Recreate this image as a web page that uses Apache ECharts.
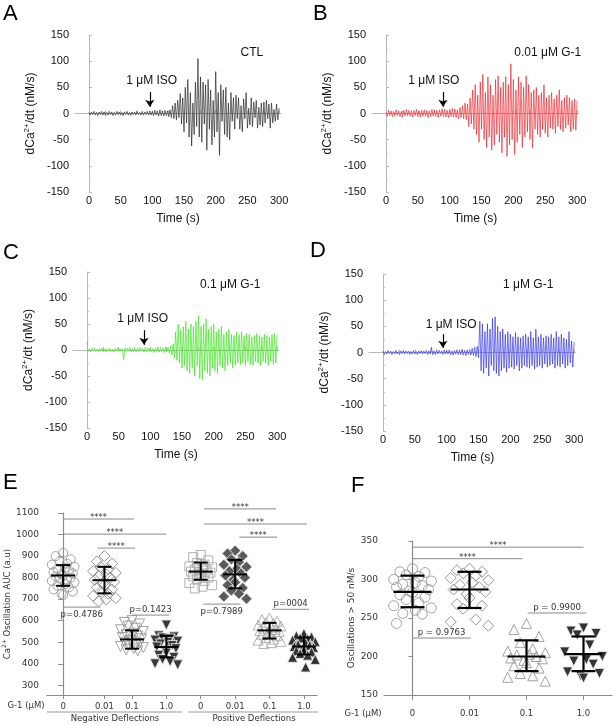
<!DOCTYPE html>
<html><head><meta charset="utf-8">
<script src="https://cdn.jsdelivr.net/npm/echarts@6/dist/echarts.min.js"></script>
<style>html,body{margin:0;padding:0;background:#fff}#c{width:616px;height:726px}</style>
</head><body><div id="c"></div>
<script>
// ---------------- DATA ----------------
const timeStep = 2; // seconds between samples
const traceCTL = [
 2,-3,3,-2,4,-3,2,-4,3,-2,
 4,-3,3,-4,2,-3,4,-2,3,-4,
 2,-3,4,-2,3,-3,2,-4,3,-2,
 4,-3,2,-4,3,-2,3,-3,4,-2,
 2,-3,4,-3,3,-2,4,-3,5,-3,
 4,-4,6,-3,5,-5,7,-4,5,-5,
 6,-4,5,-6,7,-8,15,-10,20,-12,
 25,-8,38,-20,30,-35,50,-18,65,-45,
 40,-62,20,-40,60,-25,105,-45,70,-55,
 60,-20,55,-70,65,-30,45,-60,25,-45,
 80,-35,40,-80,55,-15,45,-40,50,-45,
 20,-50,40,-15,30,-30,35,-10,30,-30,
 15,-35,28,-10,40,-28,10,-22,30,-25,
 22,-8,25,-28,12,-22,20,-25,22,-18,
 25,-10,18,-28,20,-18,8,-15,18,-12,
 10];
const traceG001 = [
 3,-5,6,-4,5,-6,4,-5,7,-4,
 5,-6,4,-7,6,-5,8,-4,6,-5,
 5,-7,6,-4,8,-6,5,-7,6,-5,
 7,-5,6,-8,5,-6,8,-5,7,-6,
 6,-8,7,-5,9,-6,8,-7,6,-8,
 8,-6,10,-7,9,-8,7,-10,12,-8,
 15,-10,20,-12,18,-25,30,-20,45,-30,
 55,-40,35,-55,60,-30,75,-50,40,-65,
 70,-45,55,-70,35,-60,65,-40,72,-55,
 50,-75,60,-45,70,-82,55,-60,95,-50,
 65,-78,45,-55,70,-40,60,-65,50,-45,
 72,-35,55,-50,40,-65,45,-30,50,-40,
 35,-45,40,-30,55,-38,30,-45,35,-28,
 40,-30,28,-38,35,-25,45,-30,25,-35,
 30,-28,35,-22,30,-35,25,-30,28,-32,
 25];
const traceG01 = [
 15,-3,2,-4,3,-2,4,-3,2,-3,
 3,-2,4,-3,2,-4,3,-2,3,-3,
 2,-4,3,-2,4,-3,3,-2,2,-18,
 4,-3,3,-2,5,-4,3,-3,2,-4,
 4,-3,5,-2,3,-4,5,-3,4,-3,
 5,-4,3,-5,4,-3,6,-4,5,-3,
 4,-5,6,-4,5,-6,8,-10,12,-15,
 35,-20,50,-25,40,-35,45,-30,55,-40,
 40,-45,50,-35,45,-50,55,-30,65,-55,
 45,-58,50,-40,60,-45,40,-50,45,-35,
 50,-40,35,-45,40,-30,45,-35,30,-40,
 35,-30,40,-25,30,-35,28,-30,35,-25,
 30,-28,35,-25,28,-30,32,-22,30,-28,
 25,-30,28,-22,32,-25,28,-30,25,-22,
 30,-25,28,-30,25,-22,30,-28,32,-25,
 28];
const traceG1 = [
 3,-4,2,-3,4,-2,3,-4,2,-3,
 4,-3,2,-4,3,-2,4,-3,3,-2,
 3,-4,2,-3,4,-3,2,-4,3,-2,
 4,-3,3,-2,4,-4,3,-3,10,-4,
 3,-4,5,-3,4,-2,3,-4,5,-3,
 4,-3,5,-4,3,-5,4,-3,5,-4,
 5,-4,6,-5,4,-6,5,-4,6,-5,
 8,-6,10,-8,12,-10,60,-35,55,-40,
 40,-30,55,-45,45,-25,65,-35,68,-40,
 50,-45,40,-35,45,-30,35,-38,40,-30,
 35,-28,30,-32,38,-25,30,-35,28,-30,
 32,-25,35,-28,30,-30,40,-25,28,-32,
 45,-28,30,-25,35,-30,28,-22,32,-28,
 30,-25,35,-22,28,-30,40,-25,30,-28,
 35,-22,28,-30,25,-25,40,-20,22,-28,
 20];
const timeLabels = [0, 50, 100, 150, 200, 250, 300];
const timeMinorTicks = [0, 25, 50, 75, 100, 125, 150, 175, 200, 225, 250, 275, 300];

// Panel E: Ca2+ oscillation AUC
const aucCategories = ['0', '0.01', '0.1', '1.0', '0', '0.01', '0.1', '1.0'];
const aucGroupPos = [0, 1.2, 2, 3, 4, 5, 6, 7];
const aucNeg0   = [915, 900, 885, 875, 865, 860, 850, 845, 840, 832, 825, 820, 815, 810, 805, 800, 795, 790, 785, 778, 770, 762, 755, 745, 735, 725, 720];
const aucNeg001 = [900, 875, 865, 850, 840, 830, 822, 815, 808, 800, 790, 780, 772, 765, 755, 745, 735, 725, 715, 705, 698, 690];
const aucNeg01  = [600, 592, 585, 575, 565, 558, 550, 542, 535, 528, 522, 516, 510, 505, 500, 495, 490, 485, 480, 475, 470, 465, 460];
const aucNeg1   = [580, 530, 525, 520, 515, 510, 505, 500, 492, 485, 478, 470, 460, 450, 440, 430, 420, 410, 400, 395];
const aucPos0   = [905, 895, 880, 868, 860, 852, 848, 842, 838, 833, 828, 823, 818, 812, 806, 800, 792, 785, 775, 765, 758, 750];
const aucPos001 = [925, 912, 900, 885, 872, 860, 850, 840, 830, 820, 810, 800, 790, 778, 765, 752, 740, 725, 712, 702];
const aucPos01  = [612, 605, 598, 592, 588, 580, 575, 570, 565, 560, 555, 550, 545, 540, 535, 530, 522, 515, 510, 504, 498, 494];
const aucPos1   = [540, 530, 525, 520, 515, 510, 502, 496, 490, 485, 480, 476, 470, 465, 460, 455, 448, 440, 430, 420, 385];
const aucMean   = [810, 788, 513, 478, 828, 815, 555, 480];
const aucSdLow  = [762, 727, 470, 430, 790, 750, 517, 443];
const aucSdHigh = [858, 850, 555, 530, 870, 882, 590, 522];
const aucTicks  = [300, 400, 500, 600, 700, 800, 900, 1000, 1100];
// significance brackets (x from, x to, y level, label)
const aucSigFrom  = [0, 0, 1.0, 0, 2.0, 4.1, 4.1, 5.12, 4.07, 6.08];
const aucSigTo    = [2.06, 3.0, 2.09, 1.08, 3.08, 6.19, 7.09, 6.22, 5.15, 7.15];
const aucSigLevel = [1072, 1002, 937, 663, 626, 1119, 1049, 988, 677, 653];
const aucSigText  = ['****', '****', '****', 'p=0.4786', 'p=0.1423', '****', '****', '****', 'p=0.7989', 'p=0004'];
const aucSigBelow = [false, false, false, true, false, false, false, false, true, false];

// Panel F: oscillations > 50 nM/s
const oscCategories = ['0', '0.01', '0.1', '1.0'];
const oscGroupPos = [0, 1, 2, 3];
const osc0   = [314, 310, 309, 306, 304, 300, 298, 296, 294, 292, 290, 287, 285, 283, 280, 277, 274, 270, 266, 263, 260, 256, 255, 243];
const osc001 = [314, 312, 310, 308, 305, 302, 299, 296, 293, 290, 287, 284, 281, 276, 268, 266, 262, 248, 245, 240];
const osc01  = [243, 235, 226, 218, 210, 207, 205, 203, 202, 200, 198, 197, 195, 192, 188, 185, 178, 175, 173, 168];
const osc1   = [237, 233, 230, 228, 215, 206, 200, 196, 194, 190, 180, 178, 175, 172];
const oscMean   = [284, 287, 200, 203];
const oscSdLow  = [264, 263, 181, 181];
const oscSdHigh = [305, 310, 221, 226];
const oscTicks  = [150, 200, 250, 300, 350];
const oscSigFrom  = [0, 0, 0, 2.02];
const oscSigTo    = [3.0, 1.93, 1.02, 3.05];
const oscSigLevel = [342, 327, 224, 256.5];
const oscSigText  = ['****', '****', 'p = 0.9763', 'p = 0.9900'];

// ---------------- LAYOUT / STYLE ----------------
const SANS = '"Liberation Sans", Arial, sans-serif';
const SMALL = '"DejaVu Sans", sans-serif';
const jitter = [0, -0.22, 0.22, -0.11, 0.11, -0.33, 0.33, 0.05, -0.17, 0.17, -0.28, 0.28, -0.05];

const chart = echarts.init(document.getElementById('c'), null, {renderer: 'canvas'});

const timeGrids = [
  {left: 75, top: 35, width: 206, height: 157},
  {left: 372, top: 35, width: 207, height: 157},
  {left: 73, top: 272, width: 206, height: 156},
  {left: 369, top: 274, width: 207, height: 157}
];
const traces = [traceCTL, traceG001, traceG01, traceG1];
const traceColors = ['rgba(25,25,25,0.75)', 'rgba(236,28,36,0.75)', 'rgba(70,228,40,0.85)', 'rgba(40,40,235,0.75)'];
const condText = ['CTL', '0.01 μM G-1', '0.1 μM G-1', '1 μM G-1'];
const condPos = [[257, 117], [254, 117], [226, 125], [228, 129]];
const isoPos = [[99, 62], [75, 62], [88, 61], [107, 54]];
const arrowX = [96, 89.5, 90, 94];
const arrowY = [[41, 13], [41, 13], [38, 10], [35, 9]];

const grids = timeGrids.concat([
  {left: 47, top: 513, width: 270, height: 182},
  {left: 384, top: 541, width: 228, height: 154}
]);

const xAxes = [], yAxes = [], series = [];
timeGrids.forEach((g, i) => {
  xAxes.push({
    gridIndex: i, type: 'value', min: -22, max: 303,
    name: 'Time (s)', nameLocation: 'middle', nameGap: 21,
    nameTextStyle: {fontFamily: SANS, fontSize: 12, color: '#111'},
    axisLine: {lineStyle: {color: '#b8b8b8', width: 1}},
    axisTick: {inside: true, length: 3, customValues: timeMinorTicks, lineStyle: {color: '#b8b8b8'}},
    axisLabel: {customValues: timeLabels, margin: 3, fontFamily: SANS, fontSize: 11, color: '#111'},
    splitLine: {show: false}
  });
  yAxes.push({
    gridIndex: i, type: 'value', min: -150, max: 150, interval: 50,
    name: '{b|dCa}{s|2+}{b|/dt (nM/s)}', nameLocation: 'middle', nameRotate: 90, nameGap: 36,
    nameTextStyle: {rich: {
      b: {fontFamily: SANS, fontSize: 12, color: '#111', lineHeight: 16, verticalAlign: 'middle'},
      s: {fontFamily: SANS, fontSize: 8, color: '#111', verticalAlign: 'top'}
    }},
    axisLine: {show: true, lineStyle: {color: '#b8b8b8', width: 1}},
    axisTick: {show: true, inside: true, length: 3, lineStyle: {color: '#b8b8b8'}},
    minorTick: {show: true, splitNumber: 2, length: 2, lineStyle: {color: '#c8c8c8'}},
    axisLabel: {margin: 6, fontFamily: SANS, fontSize: 11, color: '#111'},
    splitLine: {show: false}
  });
  series.push({
    type: 'line', xAxisIndex: i, yAxisIndex: i, showSymbol: false, silent: true,
    data: traces[i].map((v, k) => [k * timeStep, v]),
    lineStyle: {width: 0.85, color: traceColors[i]},
    markPoint: {
      silent: true, symbol: 'circle', symbolSize: 0,
      label: {show: true, position: 'inside', fontFamily: SANS, fontSize: 12, color: '#111'},
      data: [
        {coord: condPos[i], label: {formatter: condText[i]}},
        {coord: isoPos[i], label: {formatter: '1 μM ISO'}}
      ]
    },
    markLine: {
      silent: true, symbol: ['none', 'arrow'], symbolSize: 7,
      label: {show: false},
      lineStyle: {color: '#000', width: 1.2, type: 'solid'},
      data: [[{coord: [arrowX[i], arrowY[i][0]]}, {coord: [arrowX[i], arrowY[i][1]]}]]
    }
  });
});

// Panel E axes
function labelFor(pos, cats) {
  return function (v) {
    for (let k = 0; k < pos.length; k++) if (Math.abs(pos[k] - v) < 1e-6) return cats[k];
    return '';
  };
}
xAxes.push({
  gridIndex: 4, type: 'value', min: -0.47, max: 7.38,
  axisLine: {lineStyle: {color: '#8c8c8c', width: 1.2}},
  axisTick: {length: 4, customValues: aucGroupPos, lineStyle: {color: '#8c8c8c'}},
  axisLabel: {customValues: aucGroupPos, formatter: labelFor(aucGroupPos, aucCategories), margin: 7,
    fontFamily: SMALL, fontSize: 8.5, color: '#333'},
  splitLine: {show: false}
});
yAxes.push({
  gridIndex: 4, type: 'value', min: 255, max: 1100,
  name: '{b|Ca}{s|2+}{b| Oscillation AUC (a.u)}', nameLocation: 'middle', nameRotate: 90, nameGap: 30,
  nameTextStyle: {rich: {
    b: {fontFamily: SMALL, fontSize: 8.5, color: '#333', lineHeight: 12, verticalAlign: 'middle'},
    s: {fontFamily: SMALL, fontSize: 6, color: '#333', verticalAlign: 'top'}
  }},
  axisLine: {show: true, lineStyle: {color: '#8c8c8c', width: 1.2}},
  axisTick: {show: true, length: 5, customValues: aucTicks, lineStyle: {color: '#8c8c8c'}},
  axisLabel: {customValues: aucTicks, formatter: v => String(v), margin: 8, fontFamily: SMALL, fontSize: 9, color: '#333'},
  splitLine: {show: false}
});
// Panel F axes
xAxes.push({
  gridIndex: 5, type: 'value', min: -0.5, max: 3.5,
  axisLine: {lineStyle: {color: '#8c8c8c', width: 1.2}},
  axisTick: {length: 5, customValues: oscGroupPos, lineStyle: {color: '#8c8c8c'}},
  axisLabel: {customValues: oscGroupPos, formatter: labelFor(oscGroupPos, oscCategories), margin: 14,
    fontFamily: SMALL, fontSize: 8.5, color: '#333'},
  splitLine: {show: false}
});
yAxes.push({
  gridIndex: 5, type: 'value', min: 150, max: 350, interval: 50,
  name: 'Oscillations > 50 nM/s', nameLocation: 'middle', nameRotate: 90, nameGap: 28,
  nameTextStyle: {fontFamily: SMALL, fontSize: 9, color: '#333'},
  axisLine: {show: true, lineStyle: {color: '#8c8c8c', width: 1.2}},
  axisTick: {show: true, length: 4, lineStyle: {color: '#8c8c8c'}},
  axisLabel: {margin: 6, fontFamily: SMALL, fontSize: 9, color: '#333'},
  splitLine: {show: false}
});

// scatter groups
const aucGroups = [aucNeg0, aucNeg001, aucNeg01, aucNeg1, aucPos0, aucPos001, aucPos01, aucPos1];
const aucStyles = [
  {symbol: 'circle', size: 9, rot: 0, fill: 'transparent', edge: '#999'},
  {symbol: 'diamond', size: 11, rot: 0, fill: 'transparent', edge: '#888'},
  {symbol: 'triangle', size: 10, rot: 180, fill: 'transparent', edge: '#999'},
  {symbol: 'triangle', size: 10, rot: 180, fill: '#3a3a3a', edge: '#e8e8e8'},
  {symbol: 'rect', size: 9, rot: 0, fill: 'transparent', edge: '#aaa'},
  {symbol: 'diamond', size: 11, rot: 0, fill: '#5a5a5a', edge: '#e0e0e0'},
  {symbol: 'triangle', size: 10, rot: 0, fill: 'transparent', edge: '#aaa'},
  {symbol: 'triangle', size: 10, rot: 0, fill: '#333', edge: '#e8e8e8'}
];
aucGroups.forEach((vals, g) => {
  const st = aucStyles[g];
  series.push({
    type: 'scatter', xAxisIndex: 4, yAxisIndex: 4, silent: true,
    symbol: st.symbol, symbolSize: st.size, symbolRotate: st.rot,
    itemStyle: {color: st.fill, borderColor: st.edge, borderWidth: 0.9, opacity: 1},
    data: vals.map((v, k) => [aucGroupPos[g] + jitter[k % jitter.length], v])
  });
});
const oscGroups = [osc0, osc001, osc01, osc1];
const oscStyles = [
  {symbol: 'circle', size: 10, rot: 0, fill: 'transparent', edge: '#999'},
  {symbol: 'diamond', size: 11, rot: 0, fill: 'transparent', edge: '#8a8a8a'},
  {symbol: 'triangle', size: 10, rot: 0, fill: 'transparent', edge: '#999'},
  {symbol: 'triangle', size: 10, rot: 180, fill: '#333', edge: '#e8e8e8'}
];
oscGroups.forEach((vals, g) => {
  const st = oscStyles[g];
  series.push({
    type: 'scatter', xAxisIndex: 5, yAxisIndex: 5, silent: true,
    symbol: st.symbol, symbolSize: st.size, symbolRotate: st.rot,
    itemStyle: {color: st.fill, borderColor: st.edge, borderWidth: 0.9, opacity: 1},
    data: vals.map((v, k) => [oscGroupPos[g] + jitter[k % jitter.length], v])
  });
});

// mean +/- SD
function errRender(halfMean, halfCap, lw) {
  return function (params, api) {
    const pm = api.coord([api.value(0), api.value(1)]);
    const pl = api.coord([api.value(0), api.value(2)]);
    const ph = api.coord([api.value(0), api.value(3)]);
    const st = {stroke: '#000', lineWidth: lw};
    return {type: 'group', children: [
      {type: 'line', shape: {x1: pm[0], y1: ph[1], x2: pm[0], y2: pl[1]}, style: st},
      {type: 'line', shape: {x1: pm[0] - halfCap, y1: ph[1], x2: pm[0] + halfCap, y2: ph[1]}, style: st},
      {type: 'line', shape: {x1: pm[0] - halfCap, y1: pl[1], x2: pm[0] + halfCap, y2: pl[1]}, style: st},
      {type: 'line', shape: {x1: pm[0] - halfMean, y1: pm[1], x2: pm[0] + halfMean, y2: pm[1]}, style: st}
    ]};
  };
}
series.push({
  type: 'custom', xAxisIndex: 4, yAxisIndex: 4, silent: true, clip: false, z: 5,
  renderItem: errRender(12, 7, 2),
  data: aucMean.map((m, g) => [aucGroupPos[g], m, aucSdLow[g], aucSdHigh[g]])
});
series.push({
  type: 'custom', xAxisIndex: 5, yAxisIndex: 5, silent: true, clip: false, z: 5,
  renderItem: errRender(19, 12, 2.2),
  data: oscMean.map((m, g) => [oscGroupPos[g], m, oscSdLow[g], oscSdHigh[g]])
});

// significance brackets
function sigRender(texts, below) {
  return function (params, api) {
    const i = params.dataIndex;
    const p1 = api.coord([api.value(0), api.value(2)]);
    const p2 = api.coord([api.value(1), api.value(2)]);
    const t = texts[i];
    const stars = t === '****';
    const isBelow = below ? below[i] : false;
    let y, va;
    if (stars) { y = p1[1] - 1; va = 'middle'; }
    else if (isBelow) { y = p1[1] + 3; va = 'top'; }
    else { y = p1[1] - 0.5; va = 'bottom'; }
    return {type: 'group', children: [
      {type: 'line', shape: {x1: p1[0], y1: p1[1], x2: p2[0], y2: p2[1]}, style: {stroke: '#8a8a8a', lineWidth: 1}},
      {type: 'text', x: (p1[0] + p2[0]) / 2, y: y,
        style: {text: t, align: 'center', verticalAlign: va, font: '8.5px "DejaVu Sans"', fill: '#333'}}
    ]};
  };
}
series.push({
  type: 'custom', xAxisIndex: 4, yAxisIndex: 4, silent: true, clip: false, z: 6,
  renderItem: sigRender(aucSigText, aucSigBelow),
  data: aucSigFrom.map((a, k) => [a, aucSigTo[k], aucSigLevel[k]])
});
series.push({
  type: 'custom', xAxisIndex: 5, yAxisIndex: 5, silent: true, clip: false, z: 6,
  renderItem: sigRender(oscSigText, null),
  data: oscSigFrom.map((a, k) => [a, oscSigTo[k], oscSigLevel[k]])
});

// panel letters and group captions
const letterFont = '22px ' + SANS;
const graphic = [
  {type: 'text', left: 3, top: 3, style: {text: 'A', font: letterFont, fill: '#000'}},
  {type: 'text', left: 313, top: 3, style: {text: 'B', font: letterFont, fill: '#000'}},
  {type: 'text', left: 3, top: 242, style: {text: 'C', font: letterFont, fill: '#000'}},
  {type: 'text', left: 310, top: 240, style: {text: 'D', font: letterFont, fill: '#000'}},
  {type: 'text', left: 3, top: 472, style: {text: 'E', font: letterFont, fill: '#000'}},
  {type: 'text', left: 351, top: 475, style: {text: 'F', font: letterFont, fill: '#000'}},
  {type: 'line', shape: {x1: 47, y1: 712, x2: 182, y2: 712}, style: {stroke: '#9a9a9a', lineWidth: 1.2}},
  {type: 'line', shape: {x1: 188, y1: 712, x2: 318, y2: 712}, style: {stroke: '#9a9a9a', lineWidth: 1.2}},
  {type: 'text', x: 115, y: 719, style: {text: 'Negative Deflections', align: 'center', verticalAlign: 'middle', font: '8.5px "DejaVu Sans"', fill: '#333'}},
  {type: 'text', x: 254, y: 719, style: {text: 'Positive Deflections', align: 'center', verticalAlign: 'middle', font: '8.5px "DejaVu Sans"', fill: '#333'}},
  {type: 'text', x: 26, y: 706, style: {text: 'G-1 (μM)', align: 'center', verticalAlign: 'middle', font: '8.5px "DejaVu Sans"', fill: '#333'}},
  {type: 'text', x: 363, y: 714, style: {text: 'G-1 (μM)', align: 'center', verticalAlign: 'middle', font: '8.5px "DejaVu Sans"', fill: '#333'}}
];

chart.setOption({
  animation: false,
  backgroundColor: '#fff',
  textStyle: {fontFamily: SANS},
  grid: grids,
  xAxis: xAxes,
  yAxis: yAxes,
  series: series,
  graphic: graphic
});
</script></body></html>
